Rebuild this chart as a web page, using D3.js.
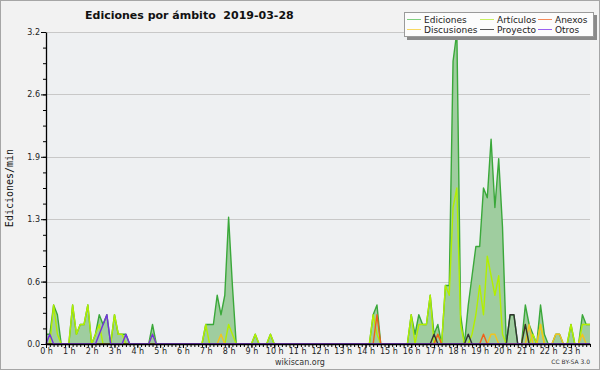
<!DOCTYPE html>
<html><head><meta charset="utf-8">
<script src="https://cdn.jsdelivr.net/npm/d3@7/dist/d3.min.js"></script>
<style>body{margin:0;background:#fff}svg{display:block}</style>
</head><body>
<svg id="c" width="600" height="370"></svg>
<script>
// 10-minute slots, 144 per day; values are edits per minute
const hourLabels = d3.range(24).map(h => h + " h");
const yTicks = [0, 0.64, 1.28, 1.92, 2.56, 3.2];
const seriesNames = ["Ediciones", "Artículos", "Anexos", "Discusiones", "Proyecto", "Otros"];

const ediciones = [
  0.1,0.1,0.4,0.3,0,0,0,0.4,0.1,0.2,0.2,0.4,
  0,0.1,0.3,0.2,0.3,0,0.3,0.1,0.1,0.1,0,0,
  0,0,0,0,0.2,0,0,0,0,0,0,0,
  0,0,0,0,0,0,0.2,0.2,0.2,0.5,0.3,0.5,
  1.3,0.6,0,0,0,0,0,0.1,0,0,0,0.1,
  0,0,0,0,0,0,0,0,0,0,0,0,
  0,0,0,0,0,0,0,0,0,0,0,0,
  0,0,0.3,0.4,0,0,0,0,0,0,0,0,
  0.3,0.1,0.3,0.2,0.2,0.5,0.1,0.2,0,0.6,0.6,2.9,
  3.2,0.3,0,0.4,0.7,1.0,1.0,1.6,1.5,2.1,1.4,1.9,
  1.2,0,0.3,0.3,0,0,0.4,0.2,0.1,0,0.4,0.1,
  0,0,0.1,0.1,0,0,0.2,0,0,0.3,0.2,0.2
];
const articulos = [
  0,0,0.4,0.1,0,0,0,0.4,0.1,0.2,0.2,0.4,
  0,0.1,0.2,0,0,0,0.3,0.1,0.1,0,0,0,
  0,0,0,0,0.1,0,0,0,0,0,0,0,
  0,0,0,0,0,0,0.2,0,0,0,0,0,
  0.2,0.1,0,0,0,0,0,0.1,0,0,0,0.1,
  0,0,0,0,0,0,0,0,0,0,0,0,
  0,0,0,0,0,0,0,0,0,0,0,0,
  0,0,0.3,0.1,0,0,0,0,0,0,0,0,
  0.3,0,0.2,0.2,0.2,0.5,0,0.1,0,0.6,0.5,1.4,
  1.6,0.2,0,0,0.1,0.3,0.6,0.3,0.9,0.7,0.5,0.7,
  0.1,0,0,0,0,0,0.2,0,0.1,0,0.2,0,
  0,0,0,0,0,0,0.2,0,0,0.2,0.2,0.2
];
const anexos = [
  0,0,0,0,0,0,0,0,0,0,0,0,
  0,0,0,0,0,0,0,0,0,0,0,0,
  0,0,0,0,0,0,0,0,0,0,0,0,
  0,0,0,0,0,0,0,0,0,0,0,0,
  0,0,0,0,0,0,0,0,0,0,0,0,
  0,0,0,0,0,0,0,0,0,0,0,0,
  0,0,0,0,0,0,0,0,0,0,0,0,
  0,0,0,0.3,0,0,0,0,0,0,0,0,
  0,0,0,0,0,0,0,0.1,0,0,0,0,
  0,0,0,0,0,0,0,0.1,0,0,0,0,
  0,0,0,0,0,0,0,0,0,0,0,0,
  0,0,0,0,0,0,0,0,0,0,0,0
];
const discusiones = [
  0,0,0,0,0,0,0,0,0,0,0,0,
  0,0,0,0,0,0,0,0,0,0,0,0,
  0,0,0,0,0,0,0,0,0,0,0,0,
  0,0,0,0,0,0,0,0,0,0,0.1,0,
  0,0,0,0,0,0,0,0,0,0,0,0,
  0,0,0,0,0,0,0,0,0,0,0,0,
  0,0,0,0,0,0,0,0,0,0,0,0,
  0,0,0,0,0,0,0,0,0,0,0,0,
  0,0,0,0,0,0,0,0,0,0,0,0,
  0,0,0,0,0,0,0,0,0,0.1,0.1,0,
  0,0,0,0,0,0,0,0.2,0,0,0.2,0,
  0,0,0.1,0.1,0,0,0,0,0,0.1,0,0
];
const proyecto = [
  0,0,0,0,0,0,0,0,0,0,0,0,
  0,0,0,0,0,0,0,0,0,0,0,0,
  0,0,0,0,0,0,0,0,0,0,0,0,
  0,0,0,0,0,0,0,0,0,0,0,0,
  0,0,0,0,0,0,0,0,0,0,0,0,
  0,0,0,0,0,0,0,0,0,0,0,0,
  0,0,0,0,0,0,0,0,0,0,0,0,
  0,0,0,0,0,0,0,0,0,0,0,0,
  0,0,0,0,0,0,0.1,0,0,0,0,0,
  0,0,0,0.1,0,0,0,0,0,0,0,0,
  0,0,0.3,0.3,0,0,0.2,0,0,0,0,0,
  0,0,0,0,0,0,0,0,0,0,0,0
];
const otros = [
  0,0.1,0,0,0,0,0,0,0,0,0,0,
  0,0,0.1,0.2,0.3,0,0,0,0,0.1,0,0,
  0,0,0,0,0.1,0,0,0,0,0,0,0,
  0,0,0,0,0,0,0,0,0,0,0,0,
  0,0,0,0,0,0,0,0,0,0,0,0,
  0,0,0,0,0,0,0,0,0,0,0,0,
  0,0,0,0,0,0,0,0,0,0,0,0,
  0,0,0,0,0,0,0,0,0,0,0,0,
  0,0,0,0,0,0,0,0,0,0,0,0,
  0,0,0,0,0,0,0,0,0,0,0,0,
  0,0,0,0,0,0,0,0,0,0,0,0,
  0,0,0,0,0,0,0,0,0,0,0,0
];

const colors = {
  "Ediciones": "#3aa83a", "Artículos": "#b2ef00", "Anexos": "#f0601a",
  "Discusiones": "#f2c41e", "Proyecto": "#333333", "Otros": "#7430e0"
};
const legendColors = {
  "Ediciones": "#7fcf7f", "Artículos": "#c8f060", "Anexos": "#f58a5a",
  "Discusiones": "#f8d860", "Proyecto": "#555555", "Otros": "#9a60f0"
};

const svg = d3.select("#c");
const L = 46, R = 590, T = 32, B = 344;
const x = d3.scaleLinear().domain([0, 143]).range([L, R]);
const y = d3.scaleLinear().domain([0, 3.2]).range([B, T]);

svg.append("rect").attr("x", 0.5).attr("y", 0.5).attr("width", 599).attr("height", 369)
  .attr("fill", "#f2f2f2").attr("stroke", "#a6a6a6").attr("stroke-width", 1);
svg.append("rect").attr("x", L).attr("y", T).attr("width", R - L).attr("height", B - T)
  .attr("fill", "#eef0f2");

// grid
svg.append("g").selectAll("line").data(yTicks.slice(1)).join("line")
  .attr("x1", L).attr("x2", R)
  .attr("y1", d => Math.round(y(d)) + 0.5).attr("y2", d => Math.round(y(d)) + 0.5)
  .attr("stroke", "#c8c8c8").attr("stroke-width", 1);

// area + lines
const area = d3.area().x((d, i) => x(i)).y0(y(0)).y1(d => y(d));
const line = d3.line().x((d, i) => x(i)).y(d => y(d));
svg.append("path").datum(ediciones).attr("d", area).attr("fill", "#9fcd9f");
const series = [
  ["Ediciones", ediciones], ["Artículos", articulos], ["Discusiones", discusiones],
  ["Anexos", anexos], ["Proyecto", proyecto], ["Otros", otros]
];
series.forEach(([name, vals]) => {
  svg.append("path").datum(vals).attr("d", line).attr("fill", "none")
    .attr("stroke", colors[name]).attr("stroke-width", 1.4).attr("stroke-linejoin", "round");
});

// y axis
const yMinor = d3.range(0, 21).map(k => k * 0.16);
svg.append("g").attr("transform", `translate(${L},0)`)
  .call(d3.axisLeft(y).tickValues(yMinor).tickSize(3).tickFormat(""))
  .call(g => g.select(".domain").remove());
const yAx = svg.append("g").attr("transform", `translate(${L},0)`)
  .call(d3.axisLeft(y).tickValues(yTicks).tickSize(5).tickSizeOuter(0).tickPadding(1)
    .tickFormat(d3.format(".1f")));
yAx.selectAll("text").attr("font-family", "DejaVu Sans").attr("font-size", 8).attr("fill", "#222");

// x axis
svg.append("g").attr("transform", `translate(0,${B})`)
  .call(d3.axisBottom(x).tickValues(d3.range(0, 144)).tickSize(3).tickFormat(""))
  .call(g => g.select(".domain").remove());
const xAx = svg.append("g").attr("transform", `translate(0,${B})`)
  .call(d3.axisBottom(x).tickValues(d3.range(0, 144, 6)).tickSize(4).tickSizeOuter(0)
    .tickFormat(i => hourLabels[i / 6]));
xAx.selectAll("text").attr("y", 10).attr("dy", 0)
  .attr("font-family", "DejaVu Sans").attr("font-size", 8).attr("fill", "#222");
svg.selectAll(".domain").attr("stroke", "#000").attr("stroke-width", 1.3);
svg.selectAll(".tick line").attr("stroke", "#000");

// title
svg.append("text").attr("x", 85).attr("y", 19).text("Ediciones por ámbito  2019-03-28")
  .attr("font-family", "DejaVu Sans").attr("font-weight", "bold").attr("font-size", 11)
  .attr("fill", "#111").style("white-space", "pre");

// y label
svg.append("text").attr("transform", "translate(13,188) rotate(-90)")
  .attr("text-anchor", "middle").text("Ediciones/min")
  .attr("font-family", "DejaVu Sans Mono").attr("font-size", 10).attr("fill", "#111");

// footer
svg.append("text").attr("x", 300).attr("y", 365).attr("text-anchor", "middle").text("wikiscan.org")
  .attr("font-family", "DejaVu Sans").attr("font-size", 8).attr("fill", "#333");
svg.append("text").attr("x", 590).attr("y", 364).attr("text-anchor", "end").text("CC BY-SA 3.0")
  .attr("font-family", "DejaVu Sans").attr("font-size", 6).attr("fill", "#333");

// legend
const lg = svg.append("g");
lg.append("rect").attr("x", 407).attr("y", 15).attr("width", 190).attr("height", 25).attr("fill", "#8a8a8a");
lg.append("rect").attr("x", 404.5).attr("y", 12.5).attr("width", 189).attr("height", 24)
  .attr("fill", "#fcfcfc").attr("stroke", "#9a9a9a");
const colX = [407, 480, 538], rowY = [19.5, 29.5];
seriesNames.forEach((name, k) => {
  const cx = colX[k % 3], cy = rowY[Math.floor(k / 3)];
  lg.append("line").attr("x1", cx).attr("x2", cx + 14).attr("y1", cy).attr("y2", cy)
    .attr("stroke", legendColors[name]).attr("stroke-width", 1);
  lg.append("text").attr("x", cx + 17).attr("y", cy + 3.5).text(name)
    .attr("font-family", "DejaVu Sans").attr("font-size", 9).attr("fill", "#222");
});
</script>
</body></html>
